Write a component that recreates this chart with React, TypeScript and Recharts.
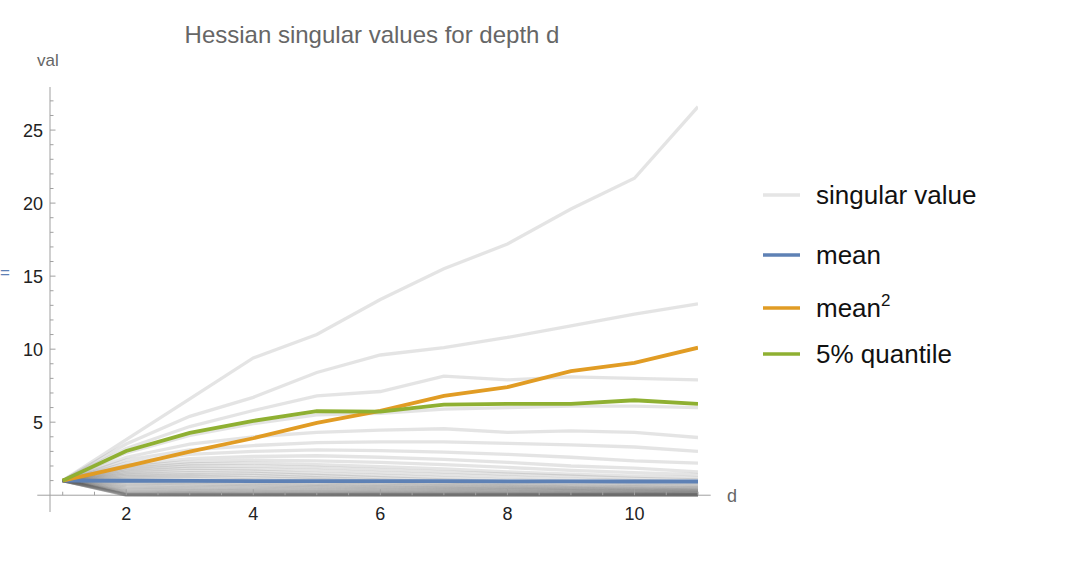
import React from "react";
import { Legend, Line, LineChart, ReferenceLine, XAxis, YAxis } from "recharts";

const depths = [1, 2, 3, 4, 5, 6, 7, 8, 9, 10, 11];

// every singular value traced over depth (largest first)
const singularValues: number[][] = [
  [1, 3.8, 6.6, 9.4, 11.0, 13.4, 15.5, 17.2, 19.6, 21.7, 26.6],
  [1, 3.5, 5.4, 6.7, 8.4, 9.6, 10.1, 10.8, 11.6, 12.4, 13.1],
  [1, 3.2, 4.7, 5.8, 6.8, 7.1, 8.15, 7.9, 8.1, 8.0, 7.9],
  [1, 2.9, 4.1, 4.9, 5.5, 5.6, 5.9, 6.0, 6.1, 6.1, 6.0],
  [1, 2.6, 3.5, 4.0, 4.3, 4.45, 4.55, 4.3, 4.4, 4.3, 3.95],
  [1, 2.4, 3.1, 3.4, 3.6, 3.65, 3.65, 3.55, 3.45, 3.3, 3.0],
  [1, 2.2, 2.8, 3.0, 3.1, 3.05, 2.95, 2.8, 2.6, 2.35, 2.2],
  [1, 2.05, 2.5, 2.65, 2.7, 2.6, 2.45, 2.25, 2.0, 1.85, 1.6],
  [1, 1.95, 2.3, 2.4, 2.35, 2.25, 2.1, 1.9, 1.7, 1.55, 1.4],
  [1, 1.85, 2.15, 2.2, 2.1, 1.95, 1.8, 1.6, 1.45, 1.3, 1.2],
  [1, 1.75, 2.0, 2.0, 1.9, 1.75, 1.6, 1.45, 1.3, 1.15, 1.05],
  [1, 1.65, 1.85, 1.8, 1.7, 1.55, 1.4, 1.25, 1.1, 1.0, 0.9],
  [1, 1.55, 1.7, 1.65, 1.5, 1.35, 1.2, 1.05, 0.95, 0.85, 0.78],
  [1, 1.45, 1.55, 1.5, 1.35, 1.2, 1.05, 0.92, 0.82, 0.74, 0.68],
  [1, 1.35, 1.4, 1.35, 1.2, 1.05, 0.92, 0.8, 0.72, 0.65, 0.6],
  [1, 1.25, 1.3, 1.2, 1.08, 0.95, 0.82, 0.72, 0.64, 0.58, 0.52],
  [1, 1.15, 1.15, 1.05, 0.95, 0.84, 0.74, 0.65, 0.57, 0.51, 0.46],
  [1, 1.05, 1.02, 0.94, 0.85, 0.75, 0.66, 0.58, 0.51, 0.45, 0.41],
  [1, 0.95, 0.9, 0.83, 0.75, 0.67, 0.59, 0.52, 0.46, 0.41, 0.37],
  [1, 0.85, 0.8, 0.73, 0.66, 0.59, 0.52, 0.46, 0.41, 0.36, 0.33],
  [1, 0.75, 0.7, 0.64, 0.58, 0.52, 0.46, 0.41, 0.36, 0.32, 0.29],
  [1, 0.65, 0.6, 0.55, 0.5, 0.45, 0.4, 0.36, 0.32, 0.28, 0.25],
  [1, 0.55, 0.5, 0.46, 0.42, 0.38, 0.34, 0.3, 0.27, 0.24, 0.22],
  [1, 0.46, 0.42, 0.38, 0.35, 0.32, 0.28, 0.25, 0.22, 0.2, 0.18],
  [1, 0.38, 0.34, 0.31, 0.28, 0.25, 0.23, 0.2, 0.18, 0.16, 0.15],
  [1, 0.3, 0.27, 0.24, 0.22, 0.2, 0.18, 0.16, 0.14, 0.13, 0.12],
  [1, 0.23, 0.2, 0.18, 0.16, 0.15, 0.13, 0.12, 0.11, 0.1, 0.09],
  [1, 0.17, 0.15, 0.13, 0.12, 0.11, 0.1, 0.09, 0.08, 0.07, 0.06],
  [1, 0.12, 0.1, 0.09, 0.08, 0.07, 0.06, 0.06, 0.05, 0.05, 0.04],
  [1, 0.08, 0.07, 0.06, 0.05, 0.05, 0.04, 0.04, 0.03, 0.03, 0.03],
  [1, 0.05, 0.04, 0.04, 0.03, 0.03, 0.03, 0.02, 0.02, 0.02, 0.02],
  [1, 0.03, 0.02, 0.02, 0.02, 0.01, 0.01, 0.01, 0.01, 0.01, 0.01],
  [1, 0.02, 0.01, 0.01, 0.01, 0.01, 0, 0, 0, 0, 0],
  [1, 0.01, 0, 0, 0, 0, 0, 0, 0, 0, 0],
  [1, 0, 0, 0, 0, 0, 0, 0, 0, 0, 0],
];

const meanValues = [1, 0.99, 0.98, 0.97, 0.97, 0.96, 0.96, 0.95, 0.95, 0.94, 0.94];
const meanSquared = [1, 1.98, 2.98, 3.9, 4.95, 5.78, 6.8, 7.4, 8.5, 9.06, 10.1];
const quantile5 = [1, 3.03, 4.27, 5.09, 5.75, 5.72, 6.2, 6.25, 6.25, 6.5, 6.25];

const xTicks = [1, 1.5, 2, 2.5, 3, 3.5, 4, 4.5, 5, 5.5, 6, 6.5, 7, 7.5, 8, 8.5, 9, 9.5, 10, 10.5, 11];
const xLabels = [2, 4, 6, 8, 10];
const yTicks = [1, 2, 3, 4, 5, 6, 7, 8, 9, 10, 11, 12, 13, 14, 15, 16, 17, 18, 19, 20, 21, 22, 23, 24, 25, 26, 27];
const yLabels = [5, 10, 15, 20, 25];

const legendItems = [
  { label: "singular value", color: "#e5e5e5" },
  { label: "mean", color: "#5e81b5" },
  { label: "mean", sup: "2", color: "#e19c24" },
  { label: "5% quantile", color: "#8fb032" },
];

const data = depths.map((d, i) => {
  const row: Record<string, number> = {
    d,
    mean: meanValues[i],
    meanSq: meanSquared[i],
    q5: quantile5[i],
  };
  singularValues.forEach((s, k) => {
    row[`s${k}`] = s[i];
  });
  return row;
});

const W = 1070;
const H = 570;
const X_MIN = 0.8;
const X_MAX = 11;
const Y_MIN = -1.15;
const Y_MAX = 27.95;
const PLOT_TOP = 87;
const PLOT_BOTTOM = 512;
const ZERO_Y = PLOT_BOTTOM - (0 - Y_MIN) * ((PLOT_BOTTOM - PLOT_TOP) / (Y_MAX - Y_MIN));

const AXIS = "#a0a0a0";
const FONT = '"Liberation Sans", Arial, Helvetica, sans-serif';

const XTick = ({ x, payload }: any) => {
  const major = xLabels.includes(payload.value);
  return (
    <g>
      <line x1={x} x2={x} y1={ZERO_Y} y2={ZERO_Y - (major ? 6 : 3.5)} stroke={AXIS} />
      {major && (
        <text x={x} y={ZERO_Y + 25} textAnchor="middle" fontSize={18} fontFamily={FONT} fill="#222">
          {payload.value}
        </text>
      )}
    </g>
  );
};

const YTick = ({ x, y, payload }: any) => {
  const major = yLabels.includes(payload.value);
  return (
    <g>
      <line x1={x} x2={x + (major ? 5.5 : 3.5)} y1={y} y2={y} stroke={AXIS} />
      {major && (
        <text x={x - 7} y={y + 6.5} textAnchor="end" fontSize={18} fontFamily={FONT} fill="#222">
          {payload.value}
        </text>
      )}
    </g>
  );
};

const renderLegend = () => (
  <svg width={260} height={210} style={{ overflow: "visible" }}>
    {legendItems.map((item, i) => {
      const cy = [25, 85, 138, 184][i];
      return (
        <g key={i}>
          <line x1={8} x2={45} y1={cy} y2={cy} stroke={item.color} strokeWidth={3.5} />
          <text x={61} y={cy + 9} fontSize={26} fontFamily={FONT} fill="#111">
            {item.label}
            {item.sup && (
              <tspan dy={-11} fontSize={17}>
                {item.sup}
              </tspan>
            )}
          </text>
        </g>
      );
    })}
  </svg>
);

export default function App() {
  return (
    <div style={{ position: "absolute", left: 0, top: 0, width: W, height: H, background: "#fff" }}>
      <LineChart
        width={W}
        height={H}
        data={data}
        margin={{ top: PLOT_TOP, right: 372, bottom: 28, left: 10 }}
      >
        <XAxis
          dataKey="d"
          type="number"
          domain={[X_MIN, X_MAX]}
          ticks={xTicks}
          interval={0}
          allowDataOverflow
          axisLine={false}
          tickLine={false}
          tickSize={0}
          tickMargin={0}
          height={30}
          tick={<XTick />}
        />
        <YAxis
          type="number"
          domain={[Y_MIN, Y_MAX]}
          ticks={yTicks}
          interval={0}
          allowDataOverflow
          axisLine={{ stroke: AXIS }}
          tickLine={false}
          tickSize={0}
          tickMargin={0}
          width={40}
          tick={<YTick />}
        />
        <ReferenceLine
          segment={[
            { x: 0.6, y: 0 },
            { x: 11.2, y: 0 },
          ]}
          stroke={AXIS}
          ifOverflow="visible"
        />
        {singularValues.map((_, k) => (
          <Line
            key={k}
            dataKey={`s${k}`}
            stroke="#555"
            strokeOpacity={0.16}
            strokeWidth={3.3}
            dot={false}
            activeDot={false}
            legendType="none"
            isAnimationActive={false}
          />
        ))}
        <Line dataKey="mean" stroke="#5e81b5" strokeWidth={3.8} dot={false} isAnimationActive={false} />
        <Line dataKey="meanSq" stroke="#e19c24" strokeWidth={3.8} dot={false} isAnimationActive={false} />
        <Line dataKey="q5" stroke="#8fb032" strokeWidth={3.8} dot={false} isAnimationActive={false} />
        <Legend
          layout="vertical"
          align="center"
          verticalAlign="middle"
          wrapperStyle={{ left: 755, top: 170, width: 260, height: 210 }}
          content={renderLegend}
        />
      </LineChart>
      <svg
        width={W}
        height={H}
        style={{ position: "absolute", left: 0, top: 0, pointerEvents: "none" }}
      >
        <text x={372} y={43} textAnchor="middle" fontSize={24} fontFamily={FONT} fill="#666">
          Hessian singular values for depth d
        </text>
        <text x={37} y={66} fontSize={17} fontFamily={FONT} fill="#666">
          val
        </text>
        <text x={727} y={502} fontSize={18} fontFamily={FONT} fill="#666">
          d
        </text>
        <text x={0} y={278} fontSize={17} fontFamily={FONT} fill="#5e81b5">
          =
        </text>
      </svg>
    </div>
  );
}
